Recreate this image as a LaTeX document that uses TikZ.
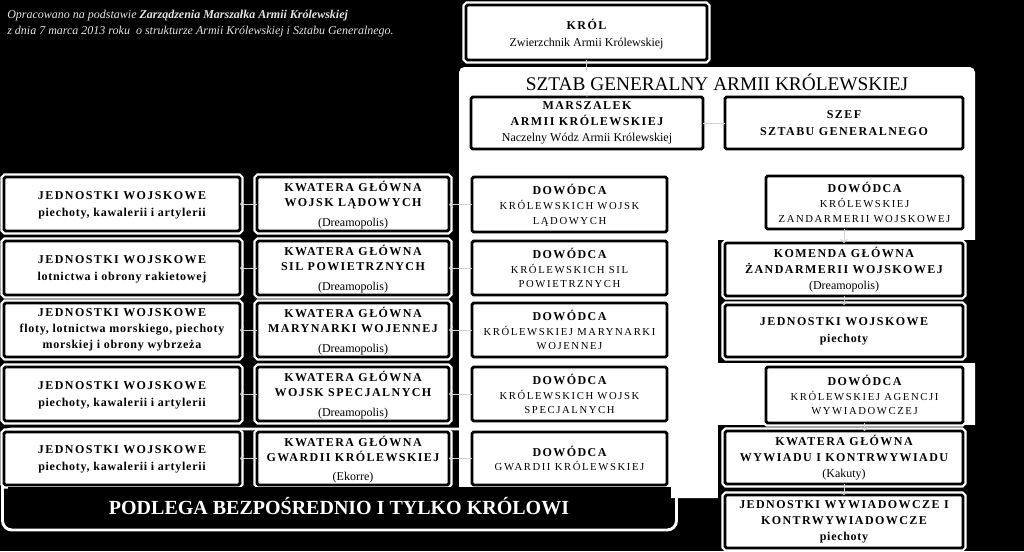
\documentclass[tikz,border=0pt]{standalone}
\usepackage{fontspec}
\setmainfont{Liberation Serif}
\newfontfamily\fntA[LetterSpace=12]{Liberation Serif}
\newfontfamily\fntL[LetterSpace=6]{Liberation Serif}
\newfontfamily\fntB[LetterSpace=15]{Liberation Serif}
\usetikzlibrary{arrows.meta}
\newcommand\capA[1]{{\fntA\bfseries\fontsize{9}{12}\selectfont #1}}
\newcommand\capB[1]{{\fntB\fontsize{8}{11}\selectfont #1}}
\newcommand\lowL[1]{{\fntL\bfseries\fontsize{9}{12}\selectfont #1}}
\newcommand\regR[1]{{\fontsize{9}{12}\selectfont #1}}
\tikzset{
  box/.style 2 args={draw=black, line width=2.2pt, fill=white, rounded corners=1.2pt,
    inner sep=0pt, outer sep=0pt, align=center, text=black, anchor=north west,
    minimum width=#1*0.75pt, minimum height=#2*0.75pt,
    font=\fontsize{9}{12}\selectfont,
    preaction={draw=white, line width=5.6pt}},
  dow/.style={font=\fontsize{9}{11}\selectfont},
  kw/.style={font=\fontsize{9}{11.25}\selectfont, text depth=-9pt},
  two/.style={font=\fontsize{9}{12.75}\selectfont},
  low/.style={text depth=#1},
  conn/.style={draw=white!82!black, line width=0.6pt},
  arr/.style={conn, -{Straight Barb[length=2.4pt, width=5pt]}},
  hdr/.style={anchor=base west, inner sep=0pt, text=white!90!black, font=\fontsize{9}{11}\selectfont\itshape},
}
\begin{document}
\begin{tikzpicture}[x=0.75pt, y=-0.75pt]
\useasboundingbox (0,0) rectangle (1024,551);
\fill[black] (0,0) rectangle (1024,551);
% general staff panel
\fill[white, rounded corners=4pt] (459,67) rectangle (975,498);
% black groups on the right
\fill[black] (718,240) rectangle (980,363);
\fill[black] (718,425) rectangle (1024,551);
% frame of the royal guard group
\draw[white, line width=2.2pt, rounded corners=7pt] (2.5,429) rectangle (676.5,530);

% top
\node[box={241}{55}, two, low=-2pt] (krol) at (466,5) {\capA{KRÓL}\\\regR{Zwierzchnik Armii Królewskiej}};
\node[box={232}{52}] (marsz) at (471,97) {\capA{MARSZALEK}\\\capA{ARMII KRÓLEWSKIEJ}\\\regR{Naczelny Wódz Armii Królewskiej}};
\node[box={238}{52}, two] (szef) at (725,97) {\capA{SZEF}\\\capA{SZTABU GENERALNEGO}};

% units column
\node[box={236}{54}, two, low=-7pt] (j1) at (4,177) {\capA{JEDNOSTKI WOJSKOWE}\\\lowL{piechoty, kawalerii i artylerii}};
\node[box={236}{54}, two, low=-7pt] (j2) at (4,241) {\capA{JEDNOSTKI WOJSKOWE}\\\lowL{lotnictwa i obrony rakietowej}};
\node[box={236}{54}] (j3) at (4,303) {\capA{JEDNOSTKI WOJSKOWE}\\\lowL{floty, lotnictwa morskiego, piechoty}\\\lowL{morskiej i obrony wybrzeża}};
\node[box={236}{54}, two, low=-7pt] (j4) at (4,367) {\capA{JEDNOSTKI WOJSKOWE}\\\lowL{piechoty, kawalerii i artylerii}};
\node[box={236}{53}, two, low=-5pt] (j5) at (4,432) {\capA{JEDNOSTKI WOJSKOWE}\\\lowL{piechoty, kawalerii i artylerii}};

% headquarters column
\node[box={192}{54}, kw] (k1) at (257,177) {\capA{KWATERA GŁÓWNA}\\\capA{WOJSK LĄDOWYCH}\\[3.5pt]\regR{(Dreamopolis)}};
\node[box={192}{54}, kw] (k2) at (257,241) {\capA{KWATERA GŁÓWNA}\\\capA{SIL POWIETRZNYCH}\\[3.5pt]\regR{(Dreamopolis)}};
\node[box={192}{54}, kw] (k3) at (257,303) {\capA{KWATERA GŁÓWNA}\\\capA{MARYNARKI WOJENNEJ}\\[3.5pt]\regR{(Dreamopolis)}};
\node[box={192}{54}, kw] (k4) at (257,367) {\capA{KWATERA GŁÓWNA}\\\capA{WOJSK SPECJALNYCH}\\[3.5pt]\regR{(Dreamopolis)}};
\node[box={192}{53}, kw] (k5) at (257,432) {\capA{KWATERA GŁÓWNA}\\\capA{GWARDII KRÓLEWSKIEJ}\\[3.5pt]\regR{(Ekorre)}};

% commanders column
\node[box={195}{55}, dow, low=-2.5pt] (d1) at (472,177) {\capA{DOWÓDCA}\\\capB{KRÓLEWSKICH WOJSK}\\\capB{LĄDOWYCH}};
\node[box={195}{54}, dow, low=-2.5pt] (d2) at (472,241) {\capA{DOWÓDCA}\\\capB{KRÓLEWSKICH SIL}\\\capB{POWIETRZNYCH}};
\node[box={195}{54}, dow, low=-2.5pt] (d3) at (472,303) {\capA{DOWÓDCA}\\\capB{KRÓLEWSKIEJ MARYNARKI}\\\capB{WOJENNEJ}};
\node[box={195}{54}, dow, low=-2.5pt] (d4) at (472,367) {\capA{DOWÓDCA}\\\capB{KRÓLEWSKICH WOJSK}\\\capB{SPECJALNYCH}};
\node[box={195}{53}, dow] (d5) at (472,432) {\capA{DOWÓDCA}\\\capB{GWARDII KRÓLEWSKIEJ}};

% right column
\node[box={197}{53}, dow, low=-2.5pt] (zand) at (766,176) {\capA{DOWÓDCA}\\\capB{KRÓLEWSKIEJ}\\\capB{ZANDARMERII WOJSKOWEJ}};
\node[box={238}{53}] (kom) at (725,243) {\capA{KOMENDA GŁÓWNA}\\\capA{ŻANDARMERII WOJSKOWEJ}\\\regR{(Dreamopolis)}};
\node[box={238}{52}, two] (jpie) at (725,305) {\capA{JEDNOSTKI WOJSKOWE}\\\lowL{piechoty}};
\node[box={197}{56}, dow] (agen) at (766,367) {\capA{DOWÓDCA}\\\capB{KRÓLEWSKIEJ AGENCJI}\\\capB{WYWIADOWCZEJ}};
\node[box={238}{53}] (kwyw) at (725,431) {\capA{KWATERA GŁÓWNA}\\\capA{WYWIADU I KONTRWYWIADU}\\\regR{(Kakuty)}};
\node[box={238}{53}] (jwyw) at (725,495) {\capA{JEDNOSTKI WYWIADOWCZE I}\\\capA{KONTRWYWIADOWCZE}\\\lowL{piechoty}};

% black band
\fill[black] (8,486.6) rectangle (671,526);
\node[anchor=base, inner sep=0pt, text=white, font=\bfseries\fontsize{15}{17}\selectfont] (podlega) at (339,514) {PODLEGA BEZPOŚREDNIO I TYLKO KRÓLOWI};

% connectors
\draw[conn] (krol.south) -- (marsz.north);
\draw[conn] (marsz.east) -- (szef.west);
\foreach \i in {1,...,5} {
  \draw[arr] (d\i.west) -- (d\i.west -| k\i.east);
  \draw[arr] (k\i.west) -- (k\i.west -| j\i.east);
}
\draw[arr] (zand.south -| kom.north) -- (kom.north);
\draw[arr] (kom.south) -- (jpie.north);
\draw[arr] (agen.south) -- (agen.south |- kwyw.north);
\draw[arr] (kwyw.south) -- (jwyw.north);

% title
\node[anchor=base, fill=white, inner sep=1pt, font=\fontsize{14.5}{16}\selectfont] (title) at (717,90) {SZTAB GENERALNY ARMII KRÓLEWSKIEJ};

% header
\node[hdr] (hdr1) at (7,18.5) {Opracowano na podstawie \textbf{Zarządzenia Marszałka Armii Królewskiej}};
\node[hdr] (hdr2) at (7,34) {z dnia 7 marca 2013 roku~ o strukturze Armii Królewskiej i Sztabu Generalnego.};
\end{tikzpicture}
\end{document}
